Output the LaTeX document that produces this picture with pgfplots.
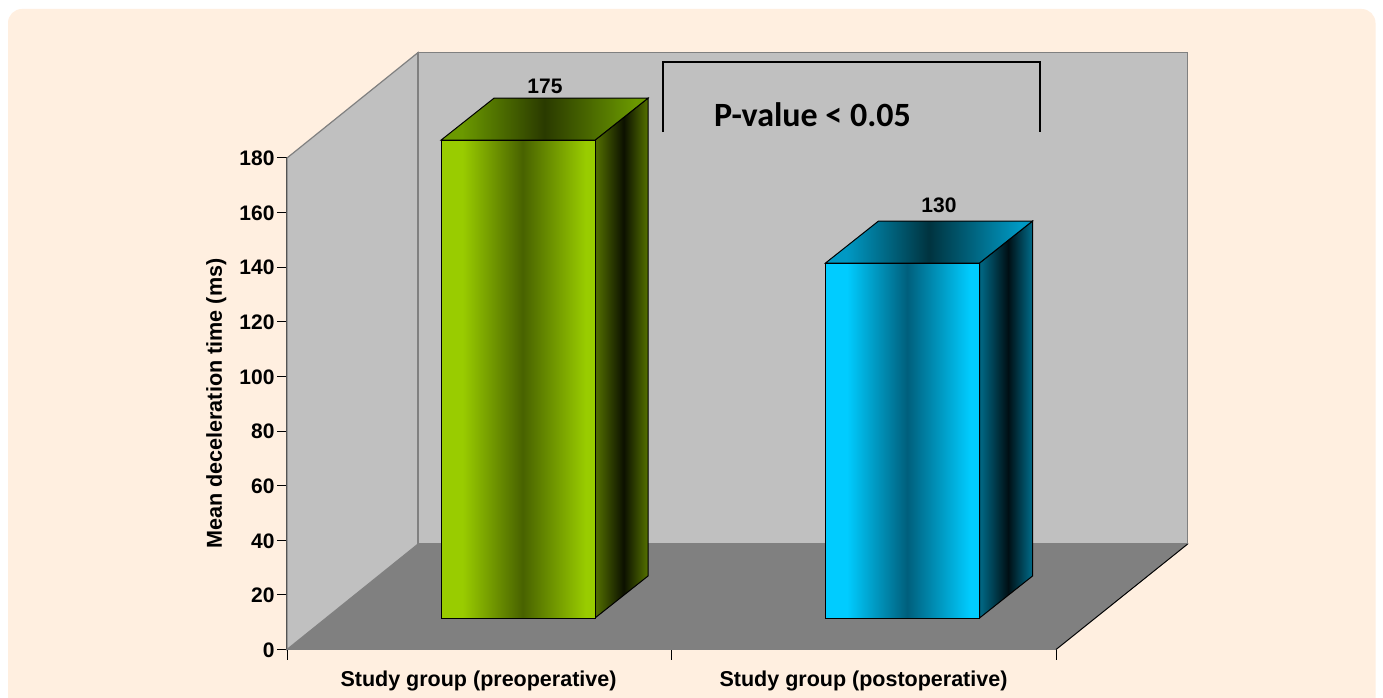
\documentclass[border=0pt]{standalone}
\usepackage{fontspec}
\setmainfont{Liberation Sans}
\newfontfamily\calibrifont{Carlito}
\usepackage{pgfplots}
\pgfplotsset{compat=1.18}

\definecolor{panel}{HTML}{FFEFE0}
\definecolor{wall}{HTML}{C0C0C0}
\definecolor{floorgrey}{HTML}{808080}

% Cylinder-like banding across each bar face (path box spans 25bp to 75bp)
\definecolor{gA}{HTML}{99CC00}\definecolor{gB}{HTML}{486200}
\definecolor{gC}{HTML}{6B9900}\definecolor{gD}{HTML}{2A3A00}
\definecolor{gE}{HTML}{4F6A00}\definecolor{gF}{HTML}{0C1100}
\definecolor{bA}{HTML}{00CCFF}\definecolor{bB}{HTML}{005F7C}
\definecolor{bC}{HTML}{0099C4}\definecolor{bD}{HTML}{00333F}
\definecolor{bE}{HTML}{006480}\definecolor{bF}{HTML}{000F14}
\pgfdeclarehorizontalshading{greenfront}{100bp}{
  color(0bp)=(gA); color(32bp)=(gA); color(51.5bp)=(gB); color(72bp)=(gA); color(100bp)=(gA)}
\pgfdeclarehorizontalshading{greentop}{100bp}{
  color(0bp)=(gC); color(30bp)=(gC); color(50bp)=(gD); color(72bp)=(gC); color(100bp)=(gC)}
\pgfdeclarehorizontalshading{greenside}{100bp}{
  color(0bp)=(gE); color(27bp)=(gE); color(52bp)=(gF); color(73bp)=(gE); color(100bp)=(gE)}
\pgfdeclarehorizontalshading{bluefront}{100bp}{
  color(0bp)=(bA); color(32bp)=(bA); color(51.5bp)=(bB); color(72bp)=(bA); color(100bp)=(bA)}
\pgfdeclarehorizontalshading{bluetop}{100bp}{
  color(0bp)=(bC); color(30bp)=(bC); color(50bp)=(bD); color(72bp)=(bC); color(100bp)=(bC)}
\pgfdeclarehorizontalshading{blueside}{100bp}{
  color(0bp)=(bE); color(27bp)=(bE); color(52bp)=(bF); color(73bp)=(bE); color(100bp)=(bE)}

% One oblique bar: #1 left edge, #2 value, #3 colour prefix.
% d = 1 marks a vertex on the rear plane of the bar.
\newcommand\barfaces[3]{%
  \addplot[draw=black, line width=1pt, shade, shading=#3side, forget plot]
    table[row sep=\\, x expr=#1+154+\thisrow{d}*53, y expr=\thisrow{v}+11.53+\thisrow{d}*15.38]
    {v d\\ 0 0\\ 0 1\\ #2 1\\ #2 0\\} -- cycle;
  \addplot[draw=black, line width=1pt, shade, shading=#3top, forget plot]
    table[row sep=\\, x expr=#1+\thisrow{w}+\thisrow{d}*53, y expr=#2+11.53+\thisrow{d}*15.38]
    {w d\\ 0 0\\ 154 0\\ 154 1\\ 0 1\\} -- cycle;
  \addplot[draw=black, line width=1pt, shade, shading=#3front, forget plot]
    table[row sep=\\, x expr=#1+\thisrow{w}, y expr=\thisrow{v}+11.53]
    {w v\\ 0 0\\ 154 0\\ 154 #2\\ 0 #2\\} -- cycle;
}

\begin{document}
\begin{tikzpicture}[x=1pt,y=1pt]
  \useasboundingbox (0,0) rectangle (1383,698);
  \fill[white] (0,0) rectangle (1383,698);
  \begin{scope}
    \clip (0,0) rectangle (1383,698);
    \fill[panel, rounded corners=14pt] (8,-30) rectangle (1375.5,689);
  \end{scope}
  \begin{axis}[
    at={(287pt,48.5pt)}, anchor=origin,
    scale only axis, width=769pt, height=491.5pt,
    xmin=287, xmax=1056, ymin=0, ymax=180,
    clip=false,
    axis x line*=bottom, axis y line*=left,
    axis line style={black, line width=1.1pt, -},
    xtick={287,671.5,1056}, xticklabels={},
    ytick={0,20,...,180},
    tick style={black, line width=1pt},
    major tick length=10pt,
    tick align=outside,
    extra x ticks={478.5,863.5},
    extra x tick labels={Study group (preoperative),Study group (postoperative)},
    extra x tick style={major tick length=0pt, tick label style={yshift=-18pt, font=\fontsize{21.5}{24}\selectfont\bfseries}},
    /pgf/number format/assume math mode=true,
    tick label style={font=\fontsize{21}{24}\selectfont\bfseries},
    yticklabel style={xshift=1pt, yshift=-0.5pt},
    ylabel={Mean deceleration time (ms)},
    ylabel style={font=\fontsize{21.6}{24}\selectfont\bfseries, at={(axis description cs:0,0.5)}, anchor=south, yshift=57pt},
  ]
    % floor and walls of the chart box
    \addplot[fill=floorgrey, draw=floorgrey, line width=1pt, forget plot] coordinates
      {(287,0) (1056,0) (1187.5,38.6) (418,38.6)} -- cycle;
    \addplot[fill=wall, draw=floorgrey, line width=1.2pt, forget plot] coordinates
      {(287,0) (418,38.6) (418,218.6) (287,180)} -- cycle;
    \addplot[fill=wall, draw=floorgrey, line width=1.4pt, forget plot] coordinates
      {(418,38.6) (1187.5,38.6) (1187.5,218.6) (418,218.6)} -- cycle;
    \addplot[black, line width=0.9pt, forget plot] coordinates {(1056,0) (1187.5,38.6)};

    % bars
    \barfaces{441}{175}{green}
    \barfaces{825.5}{130}{blue}

    % value labels above the bars (o lifts a label clear of its bar)
    \addplot[only marks, mark=none, forget plot,
      nodes near coords, point meta=explicit symbolic,
      nodes near coords style={font=\fontsize{21}{24}\selectfont\bfseries, anchor=base, yshift=3pt, black}]
      table[row sep=\\, meta=v, y expr=\thisrow{v}+11.53+15.38+\thisrow{o}] {x v o\\ 545 175 0.5\\ 939 130 2\\};

    % significance bracket
    \addplot[black, line width=1.5pt, forget plot] coordinates
      {(663,189.5) (663,215.1) (1040,215.1) (1040,189.5)};
    \node[font=\fontsize{34}{38}\selectfont\calibrifont\bfseries, anchor=west, inner sep=0pt]
      at (axis cs:714,195.8) {P-value < 0.05};
  \end{axis}
\end{tikzpicture}
\end{document}
